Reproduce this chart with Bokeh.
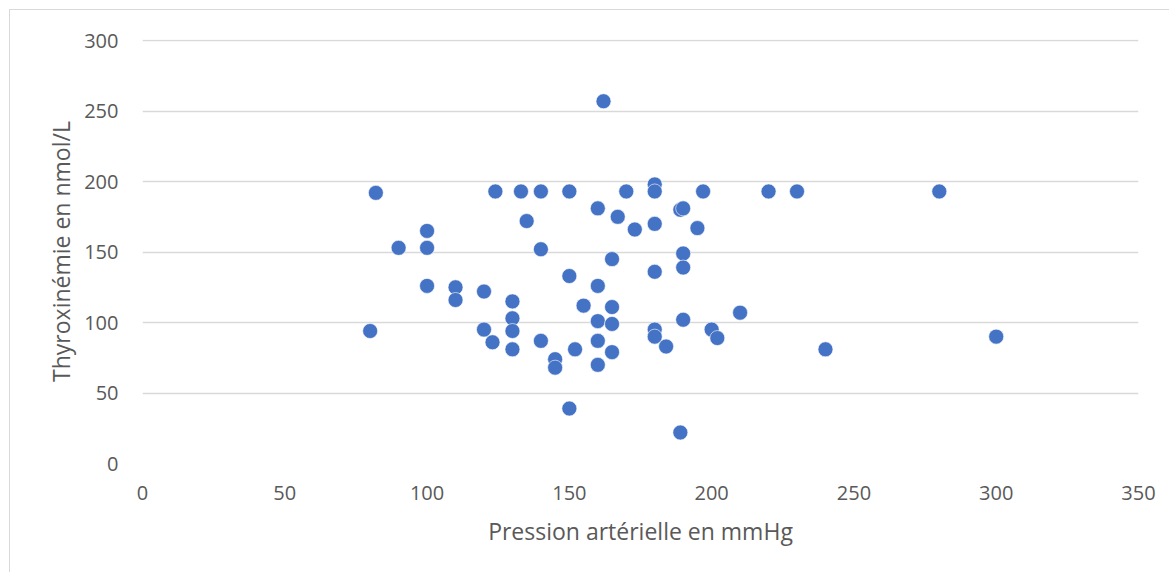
from bokeh.plotting import figure
from bokeh.models import ColumnDataSource, Range1d, FixedTicker
from bokeh.embed import file_html
from bokeh.resources import INLINE

pression = [80, 82, 90, 100, 100, 100, 110, 110, 120, 120, 123, 124,
            130, 130, 130, 130, 133, 135, 140, 140, 140, 145, 145,
            150, 150, 150, 152, 155, 160, 160, 160, 160, 160, 162,
            165, 165, 165, 165, 167, 170, 173, 180, 180, 180, 180, 180, 180,
            184, 189, 190, 190, 190, 190, 189, 195, 197, 200, 202, 210,
            220, 230, 240, 280, 300]
thyroxine = [94, 192, 153, 165, 153, 126, 125, 116, 122, 95, 86, 193,
             115, 103, 94, 81, 193, 172, 193, 152, 87, 74, 68,
             193, 133, 39, 81, 112, 181, 126, 101, 87, 70, 257,
             145, 111, 99, 79, 175, 193, 166, 198, 193, 170, 136, 95, 90,
             83, 180, 181, 149, 139, 102, 22, 167, 193, 95, 89, 107,
             193, 193, 81, 193, 90]

x_ticks = [0, 50, 100, 150, 200, 250, 300, 350]
y_ticks = [0, 50, 100, 150, 200, 250, 300]

src = ColumnDataSource(data=dict(x=pression, y=thyroxine))

FONT = "Open Sans"
TXT = "#595959"

p = figure(width=1160, height=563, output_backend="svg", toolbar_location=None,
           x_range=Range1d(0, 350), y_range=Range1d(0, 300.8),
           min_border_left=132, min_border_right=32, min_border_top=29,
           min_border_bottom=110)
p.styles = {"margin-left": "9px", "margin-top": "9px",
            "border-left": "1px solid #d9d9d9", "border-top": "1px solid #d9d9d9"}
p.outline_line_color = None
p.background_fill_color = "white"
p.border_fill_color = "white"

p.xgrid.grid_line_color = None
p.ygrid.grid_line_color = "#d9d9d9"
p.ygrid.grid_line_width = 1.3
p.ygrid.ticker = FixedTicker(ticks=y_ticks)

p.xaxis.ticker = FixedTicker(ticks=x_ticks)
p.yaxis.ticker = FixedTicker(ticks=y_ticks)

for ax in (p.xaxis[0], p.yaxis[0]):
    ax.axis_line_color = None
    ax.major_tick_line_color = None
    ax.minor_tick_line_color = None
    ax.major_label_text_font = FONT
    ax.major_label_text_font_size = "20px"
    ax.major_label_text_color = TXT
    ax.axis_label_text_font = FONT
    ax.axis_label_text_font_style = "normal"
    ax.axis_label_text_color = TXT
    ax.axis_label_text_font_size = "23px"

p.xaxis.axis_label = "Pression artérielle en mmHg"
p.yaxis.axis_label = "Thyroxinémie en nmol/L"
p.xaxis.major_label_standoff = 16
p.yaxis.major_label_standoff = 18
p.xaxis.axis_label_standoff = 12
p.yaxis.axis_label_standoff = 4

p.scatter("x", "y", source=src, size=15, fill_color="#4472C4",
          line_color="#ffffff", line_alpha=0.6, line_width=1)

open("out.html", "w").write(file_html(p, INLINE))
